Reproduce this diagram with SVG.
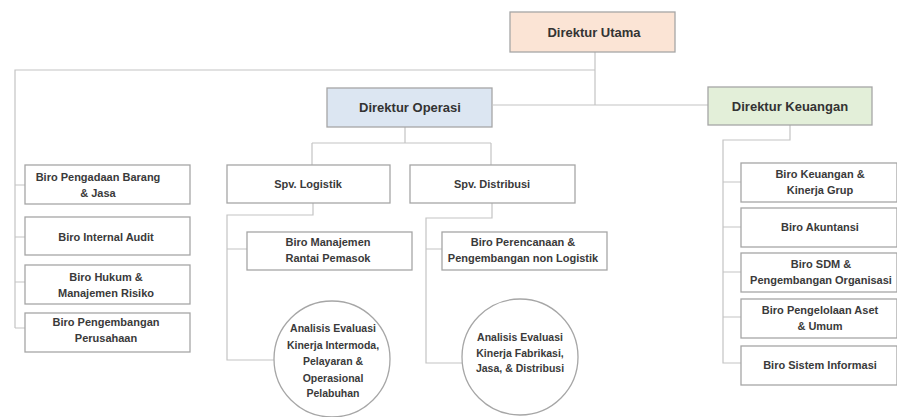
<svg xmlns="http://www.w3.org/2000/svg" width="897" height="417" viewBox="0 0 897 417">
<style>
.bx{fill:#ffffff;stroke:#a6a6a6;stroke-width:1.3}
.t{font-family:"Liberation Sans",Arial,sans-serif;font-weight:bold;font-size:11px;fill:#3a3a3a;text-anchor:middle}
.tc{font-family:"Liberation Sans",Arial,sans-serif;font-weight:bold;font-size:10.5px;fill:#3a3a3a;text-anchor:middle}
.td{font-family:"Liberation Sans",Arial,sans-serif;font-weight:bold;font-size:13px;fill:#333333;text-anchor:middle}
.ln{fill:none;stroke:#c4c4c4;stroke-width:1.2}
</style>
<rect width="897" height="417" fill="#ffffff"/>
<g id="connectors">
<path class="ln" d="M595 52V105M493 105H708M595 70H15V328"/>
<path class="ln" d="M15 185H25M15 237H25M15 282H25M15 328H25"/>
<path class="ln" d="M405 127V143M312 143H491M312 143V165M491 143V165"/>
<path class="ln" d="M313 203V215H227V360H274M227 249H247"/>
<path class="ln" d="M492 203V218H426V363H462M426 249H442"/>
<path class="ln" d="M790 125V140H723V363H741M723 182H741M723 227H741M723 272H741M723 317H741"/>
</g>
<g id="direktur-utama"><rect x="510" y="12" width="165" height="40" fill="#fbe4d5" stroke="#a6a6a6" stroke-width="1.3"/><text class="td" x="594" y="37">Direktur Utama</text></g>
<g id="direktur-operasi"><rect x="327" y="88" width="165" height="39" fill="#dce6f2" stroke="#a6a6a6" stroke-width="1.3"/><text class="td" x="410" y="112">Direktur Operasi</text></g>
<g id="direktur-keuangan"><rect x="708" y="87" width="164" height="38" fill="#e3efd9" stroke="#a6a6a6" stroke-width="1.3"/><text class="td" x="790" y="111">Direktur Keuangan</text></g>
<g id="biro-pengadaan"><rect class="bx" x="25" y="165" width="165" height="39"/><text class="t" x="98" y="181">Biro Pengadaan Barang</text><text class="t" x="98" y="197">&amp; Jasa</text></g>
<g id="biro-internal-audit"><rect class="bx" x="25" y="217" width="165" height="38"/><text class="t" x="106" y="241">Biro Internal Audit</text></g>
<g id="biro-hukum"><rect class="bx" x="25" y="265" width="165" height="39"/><text class="t" x="106" y="281">Biro Hukum &amp;</text><text class="t" x="106" y="297">Manajemen Risiko</text></g>
<g id="biro-pengembangan-perusahaan"><rect class="bx" x="25" y="313" width="165" height="39"/><text class="t" x="106" y="326">Biro Pengembangan</text><text class="t" x="106" y="342">Perusahaan</text></g>
<g id="spv-logistik"><rect class="bx" x="227" y="165" width="163" height="38"/><text class="t" x="308" y="188">Spv. Logistik</text></g>
<g id="spv-distribusi"><rect class="bx" x="410" y="165" width="165" height="38"/><text class="t" x="492" y="188">Spv. Distribusi</text></g>
<g id="biro-manajemen-rantai"><rect class="bx" x="247" y="232" width="165" height="38"/><text class="t" x="328" y="246">Biro Manajemen</text><text class="t" x="328" y="262">Rantai Pemasok</text></g>
<g id="biro-perencanaan"><rect class="bx" x="442" y="232" width="165" height="38"/><text class="t" x="523" y="246">Biro Perencanaan &amp;</text><text class="t" x="523" y="262">Pengembangan non Logistik</text></g>
<g id="analisis-intermoda"><circle class="bx" cx="332" cy="359" r="58"/><text class="tc" x="333" y="332">Analisis Evaluasi</text><text class="tc" x="333" y="349">Kinerja Intermoda,</text><text class="tc" x="333" y="365">Pelayaran &amp;</text><text class="tc" x="333" y="382">Operasional</text><text class="tc" x="333" y="397">Pelabuhan</text></g>
<g id="analisis-fabrikasi"><circle class="bx" cx="520" cy="357" r="58"/><text class="tc" x="520" y="341">Analisis Evaluasi</text><text class="tc" x="520" y="357">Kinerja Fabrikasi,</text><text class="tc" x="520" y="372">Jasa, &amp; Distribusi</text></g>
<g id="biro-keuangan-kinerja"><rect class="bx" x="741" y="163" width="156" height="39"/><text class="t" x="820" y="178">Biro Keuangan &amp;</text><text class="t" x="820" y="194">Kinerja Grup</text></g>
<g id="biro-akuntansi"><rect class="bx" x="741" y="208" width="156" height="39"/><text class="t" x="820" y="231">Biro Akuntansi</text></g>
<g id="biro-sdm"><rect class="bx" x="741" y="253" width="156" height="39"/><text class="t" x="821" y="268">Biro SDM &amp;</text><text class="t" x="821" y="284">Pengembangan Organisasi</text></g>
<g id="biro-pengelolaan-aset"><rect class="bx" x="741" y="299" width="156" height="39"/><text class="t" x="820" y="314">Biro Pengelolaan Aset</text><text class="t" x="820" y="330">&amp; Umum</text></g>
<g id="biro-sistem-informasi"><rect class="bx" x="741" y="346" width="156" height="39"/><text class="t" x="820" y="369">Biro Sistem Informasi</text></g>
</svg>
